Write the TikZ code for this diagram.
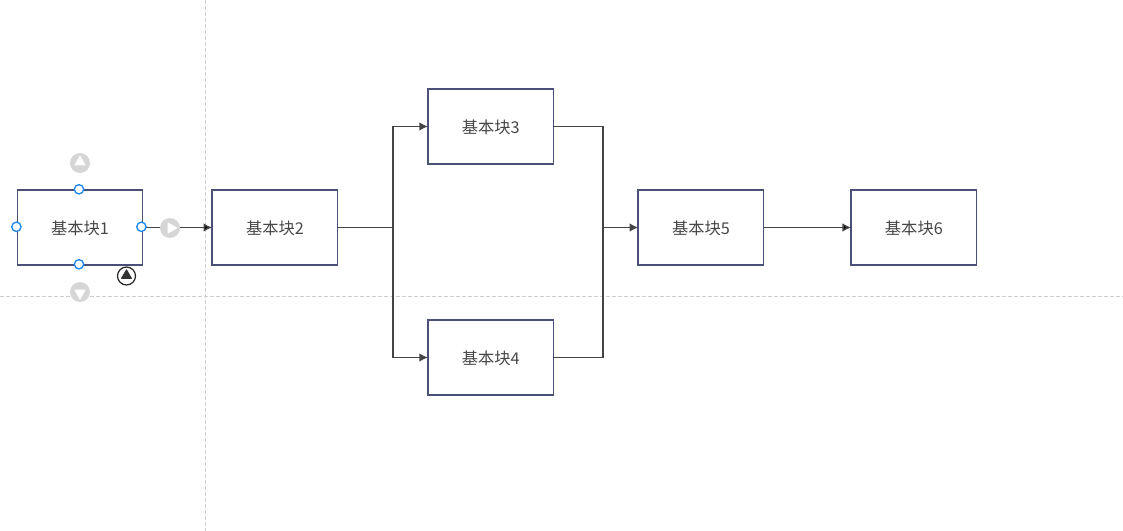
\documentclass[tikz,border=0pt]{standalone}
\usepackage{fontspec}
\setmainfont{Noto Sans CJK SC}
\usetikzlibrary{arrows.meta,positioning,shapes.geometric}
\definecolor{boxline}{HTML}{4A5078}
\definecolor{wire}{HTML}{444444}
\definecolor{handle}{HTML}{D6D6D6}
\definecolor{anchorblue}{HTML}{1E88F0}
\definecolor{guide}{HTML}{CFCFCF}
\tikzset{
  block/.style = {draw=boxline, line width=1.1pt, minimum width=94.1pt, minimum height=56.25pt,
    inner sep=0pt, outer sep=0pt, text=black!72, font=\fontsize{12.2}{14}\selectfont, text depth=0pt, text height=11pt},
  wireline/.style = {draw=wire, line width=1.1pt},
  anchordot/.style = {circle, draw=anchorblue, fill=white, line width=1pt, minimum size=7pt, inner sep=0pt},
  growdot/.style = {circle, fill=handle, minimum size=15pt, inner sep=0pt},
  tri/.style = {regular polygon, regular polygon sides=3, fill=#1, minimum size=10pt, inner sep=0pt, rounded corners=0.5pt},
  guideline/.style = {draw=guide, line width=0.6pt, dashed, dash pattern=on 3pt off 1.5pt}
}
\begin{document}
\begin{tikzpicture}[x=0.75pt, y=-0.75pt, >={Latex[length=6.5pt,width=6.5pt]}]
\useasboundingbox (0,0) rectangle (1123,531);
\coordinate (g_t) at (205,0);
\coordinate (g_b) at (205,531);
\coordinate (g_l) at (0,296);
\coordinate (g_r) at (1123,296);
\draw [guideline] (g_t) -- (g_b);
\draw [guideline] (g_l) -- (g_r);
\node [block] (b_1) at (80,227.5) {基本块1};
\node [block] (b_2) [right = 52.1pt of b_1] {基本块2};
\node [block] (b_3) [above right = 19.5pt and 67.7pt of b_2] {基本块3};
\node [block] (b_4) [below right = 41.25pt and 67.7pt of b_2] {基本块4};
\node [block] (b_5) [below right = 19.5pt and 63.6pt of b_3] {基本块5};
\node [block] (b_6) [right = 65.6pt of b_5] {基本块6};
\coordinate (j_1) at ([xshift=41.5pt]b_2.east);
\coordinate (j_2) at ([xshift=-26.25pt]b_5.west);
\path [wireline, ->]
(b_1) edge (b_2)
(b_5) edge (b_6);
\draw [wireline] (b_2) -- (j_1);
\draw [wireline, ->] (j_1) |- (b_3);
\draw [wireline, ->] (j_1) |- (b_4);
\draw [wireline] (b_3) -| (j_2);
\draw [wireline] (b_4) -| (j_2);
\draw [wireline, ->] (j_2) -- (b_5);
% grey grow handles
\node [growdot] (h_t) at (80,163) {};
\node [growdot] (h_b) at (80,292) {};
\node [growdot] (h_r) at (170,228) {};
\node [tri=white] (t_t) at (80,162) {};
\node [tri=white, shape border rotate=180] (t_b) at (80,293) {};
\node [tri=white, shape border rotate=-90] (t_r) at (171,228) {};
% blue anchors
\node [anchordot] (a_t) at (79,189.3) {};
\node [anchordot] (a_b) at (79,264.3) {};
\node [anchordot] (a_l) at (16.4,226.8) {};
\node [anchordot] (a_r) at (141.4,226.8) {};
% rotate handle
\node [circle, draw=black!85, fill=white, line width=0.9pt, minimum size=13.5pt, inner sep=0pt] (r_1) at (126.5,276) {};
\node [tri=black!80] (r_2) at (126.5,275.5) {};
\end{tikzpicture}
\end{document}
